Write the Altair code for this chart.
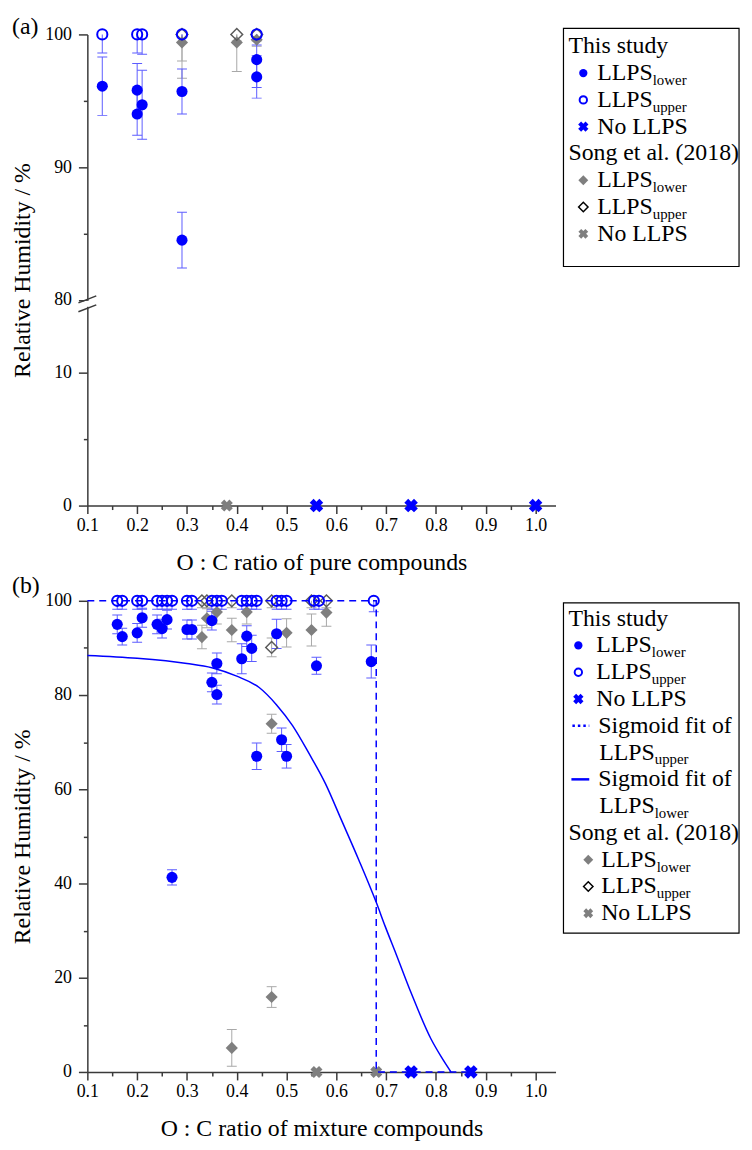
import altair as alt
import pandas as pd

FONT = "Liberation Serif, Times New Roman, serif"
BLUE = "#0000FF"
BLUE_ERR = "#5C5CFF"
GRAY = "#7F7F7F"
GRAY_ERR = "#A8A8A8"
AXIS_C = "#3A3A3A"

PLOT_W = 472
PLOT_H = 475
LEG_W = 177

X_TICKS = [0.1, 0.2, 0.3, 0.4, 0.5, 0.6, 0.7, 0.8, 0.9, 1.0]
X_MINOR = [0.15, 0.25, 0.35, 0.45, 0.55, 0.65, 0.75, 0.85, 0.95]
X_DOMAIN = [0.1, 1.04]

# ---------------- panel (a): pure compounds ----------------
a_low_x = [0.13, 0.20, 0.20, 0.21, 0.29, 0.29, 0.44, 0.44]
a_low_y = [96.1, 95.8, 94.0, 94.7, 95.7, 84.5, 98.1, 96.8]
a_low_e = [2.2, 2.0, 1.6, 2.6, 1.7, 2.1, 2.1, 1.6]
a_up_x = [0.13, 0.20, 0.21, 0.29, 0.44]
a_up_y = [100, 100, 100, 100, 100]
a_up_e = [1.4, 1.4, 1.5, 0.6, 0.8]
a_no_x = [0.56, 0.75, 1.0]
a_no_y = [0, 0, 0]
a_song_low_x = [0.29, 0.40, 0.44]
a_song_low_y = [99.4, 99.4, 99.6]
a_song_low_e = [1.4, 2.2, 0.5]
a_song_up_x = [0.29, 0.40, 0.44]
a_song_up_y = [100, 100, 100]
a_song_up_e = [3.3, 0.5, 0.5]
a_song_no_x = [0.38]
a_song_no_y = [0]

# ---------------- panel (b): mixtures ----------------
b_low_x = [0.16, 0.17, 0.20, 0.21, 0.24, 0.25, 0.26, 0.27, 0.30, 0.31, 0.35, 0.36,
           0.35, 0.36, 0.41, 0.42, 0.43, 0.44, 0.48, 0.49, 0.50, 0.56, 0.67]
b_low_y = [95.0, 92.4, 93.2, 96.4, 95.0, 94.1, 96.0, 41.3, 93.9, 93.9, 95.8, 86.7,
           82.7, 80.1, 87.7, 92.5, 89.9, 67.0, 93.0, 70.5, 67.0, 86.2, 87.1]
b_low_e = [2.0, 1.8, 2.0, 2.0, 2.0, 2.0, 2.0, 1.6, 2.0, 2.0, 2.0, 2.2,
           2.0, 2.0, 3.2, 2.2, 2.8, 2.8, 3.1, 2.5, 2.5, 1.8, 3.5]
b_up_x = [0.16, 0.17, 0.20, 0.21, 0.24, 0.25, 0.26, 0.27, 0.30, 0.31, 0.35, 0.36,
          0.37, 0.41, 0.42, 0.43, 0.44, 0.48, 0.49, 0.50, 0.555, 0.565, 0.675]
b_up_y = [100] * 23
b_up_e = [1.8] * 22 + [2.3]
b_no_x = [0.75, 0.87]
b_no_y = [0, 0]
b_song_low_x = [0.33, 0.34, 0.36, 0.39, 0.42, 0.50, 0.47, 0.55, 0.58, 0.39, 0.47]
b_song_low_y = [92.3, 96.3, 97.6, 93.8, 97.6, 93.2, 73.9, 93.8, 97.5, 5.1, 15.9]
b_song_low_e = [2.5, 2.0, 2.5, 2.5, 2.5, 3.0, 2.0, 3.4, 2.9, 3.9, 2.2]
b_song_up_x = [0.33, 0.34, 0.39, 0.47, 0.47, 0.55, 0.58]
b_song_up_y = [100, 100, 100, 100, 90.1, 100, 100]
b_song_up_e = [1.5, 1.5, 1.5, 1.5, 2.0, 1.5, 1.5]
b_song_no_x = [0.56, 0.68]
b_song_no_y = [0, 0]

sig_low_x = [0.10, 0.20, 0.30, 0.35, 0.40, 0.445, 0.48, 0.512, 0.545, 0.578, 0.61,
             0.645, 0.68, 0.698, 0.72, 0.75, 0.79, 0.81, 0.83]
sig_low_y = [88.4, 87.8, 86.7, 85.8, 84.0, 81.6, 77.9, 73.5, 67.6, 61.2, 53.5,
             45.0, 36.0, 30.9, 25.0, 16.8, 7.0, 3.3, 0.0]
sig_up_x = [0.10, 0.68, 0.68, 0.87]
sig_up_y = [100, 100, 0, 0]

# ---------------- legends ----------------
leg_a_label = ["This study", "LLPS", "LLPS", "No LLPS",
               "Song et al. (2018)", "LLPS", "LLPS", "No LLPS"]
leg_a_sub = ["", "lower", "upper", "", "", "lower", "upper", ""]
leg_a_role = ["header", "item", "item", "item", "header", "song", "song", "song"]
leg_a_sym = ["", "blue_low", "blue_up", "blue_no", "", "song_low", "song_up", "song_no"]

leg_b_label = ["This study", "LLPS", "LLPS", "No LLPS", "Sigmoid  fit  of", "LLPS",
               "Sigmoid  fit  of", "LLPS", "Song et al. (2018)", "LLPS", "LLPS", "No LLPS"]
leg_b_sub = ["", "lower", "upper", "", "", "upper", "", "lower", "", "lower", "upper", ""]
leg_b_role = ["header", "item", "item", "item", "sig", "cont", "sig", "cont",
              "header", "song", "song", "song"]
leg_b_sym = ["", "blue_low", "blue_up", "blue_no", "dash", "", "solid", "",
             "", "song_low", "song_up", "song_no"]

A_BREAK = 15.5  # position of 80 % on the broken axis


def ta(v):
    return v if v < 50 else v - 80 + A_BREAK


def ident(v):
    return v


def frame(xv, yv, ev=None, tf=ident):
    d = {"x": xv, "y": [tf(v) for v in yv]}
    if ev is not None:
        d["lo"] = [tf(v - e) for v, e in zip(yv, ev)]
        d["hi"] = [tf(v + e) for v, e in zip(yv, ev)]
    return pd.DataFrame(d)


XS = alt.Scale(domain=X_DOMAIN, nice=False, zero=False)


def x_main(title):
    return alt.Axis(title=title, values=X_TICKS, format=".1f", tickSize=8, tickWidth=1.5,
                    domainWidth=1.5, labelPadding=3, titlePadding=16, orient="bottom",
                    labelFlush=False, labelOverlap=False, labelFontSize=18, titleFontSize=24)


X_MINOR_AXIS = alt.Axis(values=X_MINOR, tickSize=4, tickWidth=1.5, labels=False, domain=False,
                        title=None, orient="bottom")


def err_layers(df, color, ys, xax=None, yax=None):
    b = alt.Chart(df)
    r = b.mark_rule(color=color, strokeWidth=1, clip=True).encode(
        x=alt.X("x:Q", scale=XS, axis=xax), y=alt.Y("lo:Q", scale=ys, axis=yax), y2=alt.Y2("hi:Q"))
    c1 = b.mark_tick(color=color, orient="horizontal", size=10, thickness=1, opacity=1, clip=True).encode(
        x=alt.X("x:Q", scale=XS, axis=None), y=alt.Y("lo:Q", scale=ys, axis=None))
    c2 = b.mark_tick(color=color, orient="horizontal", size=10, thickness=1, opacity=1, clip=True).encode(
        x=alt.X("x:Q", scale=XS, axis=None), y=alt.Y("hi:Q", scale=ys, axis=None))
    return [r, c1, c2]


def pts(df, ys, shape, color, size, filled, sw=1.5, angle=0, xax=None, yax=None):
    kw = dict(shape=shape, filled=filled, color=color, size=size, strokeWidth=sw, opacity=1)
    if angle:
        kw["angle"] = angle
    return alt.Chart(df).mark_point(**kw).encode(
        x=alt.X("x:Q", scale=XS, axis=xax), y=alt.Y("y:Q", scale=ys, axis=yax))


def label_layer(text, ly):
    return alt.Chart(pd.DataFrame({"t": [text]})).mark_text(
        font=FONT, fontSize=24, align="left", baseline="alphabetic", color="black").encode(
        x=alt.value(-76), y=alt.value(ly), text="t:N")


def panel(fr, ys, y_axis, y_minor, xtitle, label, label_y, extra=()):
    layers = []
    layers += err_layers(fr["song_low"], GRAY_ERR, ys, xax=X_MINOR_AXIS, yax=y_minor)
    layers += err_layers(fr["song_up"], GRAY_ERR, ys)
    layers += err_layers(fr["up"], BLUE_ERR, ys)
    layers += err_layers(fr["low"], BLUE_ERR, ys)
    layers.append(pts(fr["song_low"], ys, "diamond", GRAY, 150, True, 0))
    layers.append(pts(fr["song_up"], ys, "diamond", "#5A5A5A", 140, False, 1.5))
    layers.append(pts(fr["song_no"], ys, "cross", GRAY, 150, True, 0, angle=45))
    layers.append(pts(fr["low"], ys, "circle", BLUE, 125, True, 0, xax=x_main(xtitle), yax=y_axis))
    layers.append(pts(fr["up"], ys, "circle", BLUE, 105, False, 2))
    layers += list(extra)
    layers.append(pts(fr["no"], ys, "cross", BLUE, 190, True, 0, angle=45))
    layers.append(label_layer(label, label_y))
    return alt.layer(*layers).resolve_axis(x="independent", y="independent").properties(
        width=PLOT_W, height=PLOT_H)


# ---- panel (a)
YA = alt.Scale(domain=[0, 35.5], nice=False, zero=False)
ya_axis = alt.Axis(title="Relative Humidity / %", values=[0, 10, A_BREAK, A_BREAK + 10, A_BREAK + 20],
                   labelExpr=("datum.value == %s ? '80' : datum.value == %s ? '90' : "
                              "datum.value == %s ? '100' : datum.label") % (A_BREAK, A_BREAK + 10, A_BREAK + 20),
                   tickSize=9, tickWidth=1.5, domainWidth=1.5, labelPadding=7, titlePadding=10,
                   orient="left", labelFontSize=18, titleFontSize=24)
ya_minor = alt.Axis(values=[5, A_BREAK + 5, A_BREAK + 15], tickSize=4, tickWidth=1.5, labels=False,
                    domain=False, title=None, orient="left")
fr_a = {
    "low": frame(a_low_x, a_low_y, a_low_e, ta),
    "up": frame(a_up_x, a_up_y, a_up_e, ta),
    "no": frame(a_no_x, a_no_y, None, ta),
    "song_low": frame(a_song_low_x, a_song_low_y, a_song_low_e, ta),
    "song_up": frame(a_song_up_x, a_song_up_y, a_song_up_e, ta),
    "song_no": frame(a_song_no_x, a_song_no_y, None, ta),
}
one = pd.DataFrame({"k": [0]})
brk_y = PLOT_H * (1 - A_BREAK / 35.5)
break_layers = [
    alt.Chart(one).mark_rect(color="white").encode(
        x=alt.value(-3), x2=alt.value(3), y=alt.value(brk_y + 1), y2=alt.value(brk_y + 7)),
    alt.Chart(one).mark_rule(color=AXIS_C, strokeWidth=1.5).encode(
        x=alt.value(-9), x2=alt.value(9), y=alt.value(brk_y + 3), y2=alt.value(brk_y - 4)),
    alt.Chart(one).mark_rule(color=AXIS_C, strokeWidth=1.5).encode(
        x=alt.value(-9), x2=alt.value(9), y=alt.value(brk_y + 12), y2=alt.value(brk_y + 5)),
]
panel_a = panel(fr_a, YA, ya_axis, ya_minor, "O : C ratio of pure compounds", "(a)", 0, break_layers)

# ---- panel (b)
YB = alt.Scale(domain=[0, 100], nice=False, zero=False)
yb_axis = alt.Axis(title="Relative Humidity / %", values=[0, 20, 40, 60, 80, 100],
                   tickSize=9, tickWidth=1.5, domainWidth=1.5, labelPadding=7, titlePadding=10,
                   orient="left", labelFontSize=18, titleFontSize=24)
yb_minor = alt.Axis(values=[10, 30, 50, 70, 90], tickSize=4, tickWidth=1.5, labels=False,
                    domain=False, title=None, orient="left")
fr_b = {
    "low": frame(b_low_x, b_low_y, b_low_e),
    "up": frame(b_up_x, b_up_y, b_up_e),
    "no": frame(b_no_x, b_no_y),
    "song_low": frame(b_song_low_x, b_song_low_y, b_song_low_e),
    "song_up": frame(b_song_up_x, b_song_up_y, b_song_up_e),
    "song_no": frame(b_song_no_x, b_song_no_y),
}
sig_low_df = pd.DataFrame({"x": sig_low_x, "y": sig_low_y, "i": list(range(len(sig_low_x)))})
sig_up_df = pd.DataFrame({"x": sig_up_x, "y": sig_up_y, "i": list(range(len(sig_up_x)))})
sig_layers = [
    alt.Chart(sig_up_df).mark_line(color=BLUE, strokeWidth=1.5, strokeDash=[7, 5]).encode(
        x=alt.X("x:Q", scale=XS, axis=None), y=alt.Y("y:Q", scale=YB, axis=None), order="i:Q"),
    alt.Chart(sig_low_df).mark_line(color=BLUE, strokeWidth=1.5, interpolate="monotone").encode(
        x=alt.X("x:Q", scale=XS, axis=None), y=alt.Y("y:Q", scale=YB, axis=None), order="i:Q"),
]
panel_b = panel(fr_b, YB, yb_axis, yb_minor, "O : C ratio of mixture compounds", "(b)", -8, sig_layers)

# ---- legends
SYM_STYLE = {
    "blue_low": dict(shape="circle", filled=True, color=BLUE, size=70, strokeWidth=0),
    "blue_up": dict(shape="circle", filled=False, color=BLUE, size=55, strokeWidth=2),
    "blue_no": dict(shape="cross", filled=True, color=BLUE, size=110, strokeWidth=0, angle=45),
    "song_low": dict(shape="diamond", filled=True, color=GRAY, size=100, strokeWidth=0),
    "song_up": dict(shape="diamond", filled=False, color="black", size=90, strokeWidth=1.5),
    "song_no": dict(shape="cross", filled=True, color=GRAY, size=100, strokeWidth=0, angle=45),
}
LLPS_W = 56


def legend(labels, subs, roles, syms, text_x, sym_x, y0, step, box_top, box_bot, height):
    df = pd.DataFrame({"row": list(range(len(labels))), "label": labels, "sub": subs,
                       "role": roles, "sym": syms})
    n = len(labels)
    yenc = alt.Y("row:Q", scale=alt.Scale(domain=[0, n - 1], range=[y0, y0 + step * (n - 1)]), axis=None)
    base = alt.Chart(df)
    layers = [alt.Chart(one).mark_rect(fill="white", stroke="black", strokeWidth=1.2).encode(
        x=alt.value(0), x2=alt.value(LEG_W), y=alt.value(box_top), y2=alt.value(box_bot))]
    for role, tx in text_x.items():
        if role not in roles:
            continue
        layers.append(base.transform_filter(alt.datum.role == role).mark_text(
            align="left", baseline="middle", font=FONT, fontSize=24, color="black").encode(
            x=alt.value(tx), y=yenc, text="label:N"))
        if any(s for s, r in zip(subs, roles) if r == role):
            layers.append(base.transform_filter((alt.datum.role == role) & (alt.datum.sub != "")).mark_text(
                align="left", baseline="middle", font=FONT, fontSize=15, dy=7, color="black").encode(
                x=alt.value(tx + LLPS_W), y=yenc, text="sub:N"))
    for key, st in SYM_STYLE.items():
        if key not in syms:
            continue
        role = roles[syms.index(key)]
        layers.append(base.transform_filter(alt.datum.sym == key).mark_point(opacity=1, **st).encode(
            x=alt.value(sym_x[role]), y=yenc))
    if "dash" in syms:
        layers.append(base.transform_filter(alt.datum.sym == "dash").mark_rule(
            color=BLUE, strokeWidth=2.5, strokeDash=[2.5, 3]).encode(
            x=alt.value(9), x2=alt.value(26), y=yenc))
    if "solid" in syms:
        layers.append(base.transform_filter(alt.datum.sym == "solid").mark_rule(
            color=BLUE, strokeWidth=2.5).encode(x=alt.value(8), x2=alt.value(26), y=yenc))
    return alt.layer(*layers).properties(width=LEG_W, height=height)


legend_a = legend(leg_a_label, leg_a_sub, leg_a_role, leg_a_sym,
                  {"header": 5, "item": 34, "song": 34}, {"item": 20, "song": 20},
                  12, 27, -6, 234, 230)
legend_b = legend(leg_b_label, leg_b_sub, leg_b_role, leg_b_sym,
                  {"header": 5, "item": 33, "sig": 35, "cont": 36, "song": 38},
                  {"item": 15, "song": 25},
                  18, 27, 2, 335, 335)

# nested concats have no height of their own under flush bounds, so the
# vertical spacing spans the first row's plot height plus the gap
ROW_GAP = 96
chart = alt.vconcat(
    alt.hconcat(panel_a, legend_a, spacing=8, bounds="flush"),
    alt.hconcat(panel_b, legend_b, spacing=8, bounds="flush"),
    spacing=PLOT_H + ROW_GAP, bounds="flush",
).properties(
    padding={"left": 3, "top": 3, "right": 0, "bottom": 0}
).configure_view(stroke=None).configure_axis(
    labelFont=FONT, titleFont=FONT, labelColor="black", titleColor="black",
    titleFontWeight="normal", grid=False, domainColor=AXIS_C, tickColor=AXIS_C,
)

chart.save("out.html", embed_options={"renderer": "svg", "actions": False})
